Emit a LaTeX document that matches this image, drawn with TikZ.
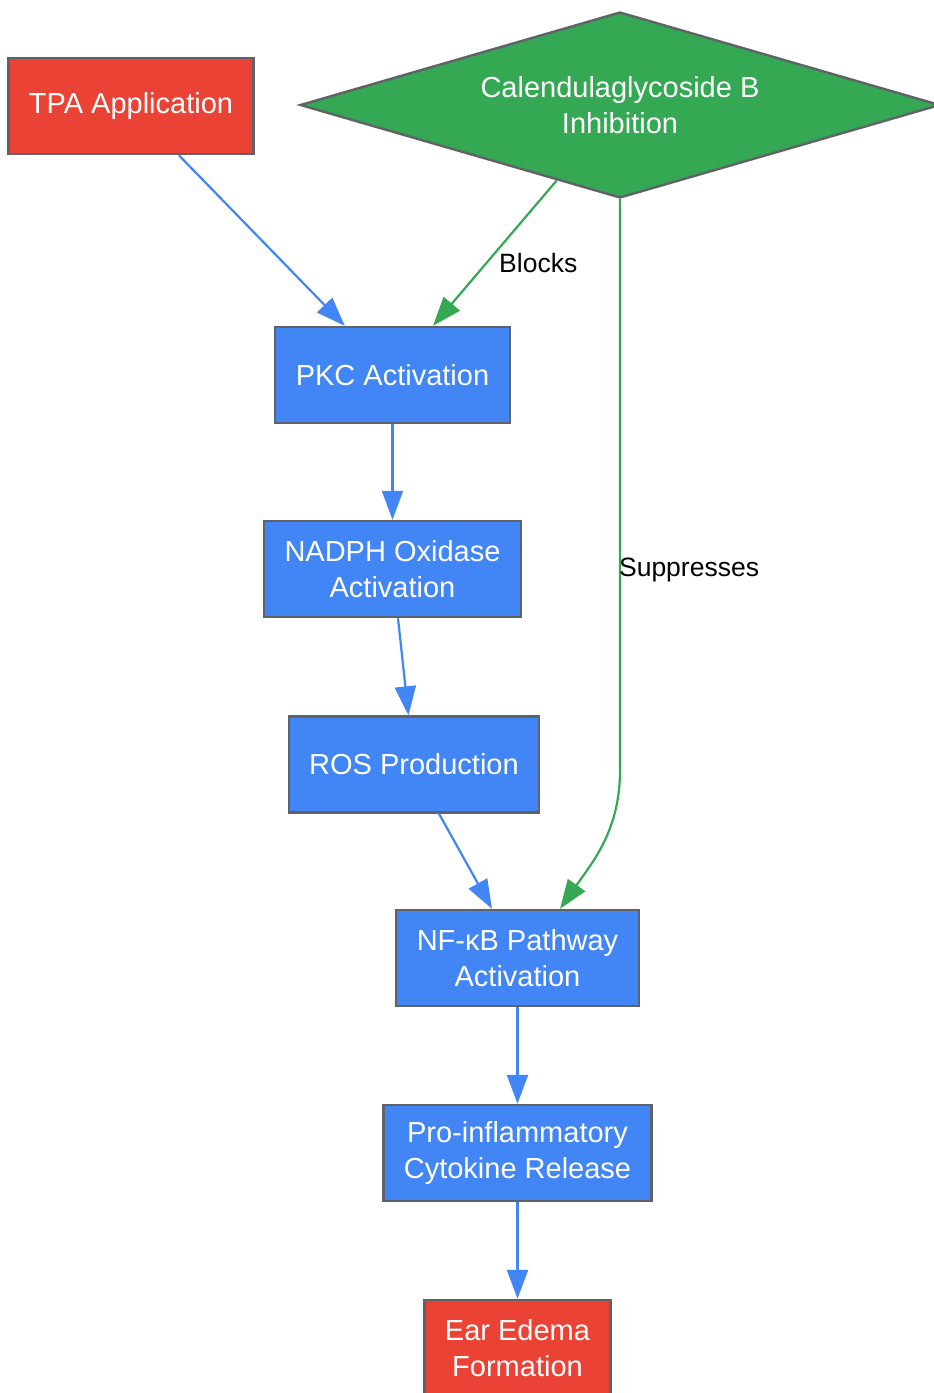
\documentclass[tikz,border=0pt]{standalone}
\usepackage{fontspec}
\setmainfont{Liberation Sans}
\usetikzlibrary{arrows.meta, shapes.geometric, positioning}

\definecolor{gred}{HTML}{EA4335}
\definecolor{ggreen}{HTML}{34A853}
\definecolor{gblue}{HTML}{4285F4}
\definecolor{edgegray}{HTML}{5F6368}

\begin{document}
\begin{tikzpicture}[
						x=1pt, y=-1pt,
						block/.style = {draw=edgegray, line width=2.4pt, rectangle, minimum height=96pt, inner xsep=20.5pt, align=center, text=white, font=\fontsize{29}{36}\selectfont},
						cause/.style = {block, fill=gred},
						pathway/.style = {block, fill=gblue},
						agent/.style = {draw=edgegray, line width=2.4pt, diamond, aspect=3.44, minimum width=640pt, minimum height=186pt, inner sep=0pt, fill=ggreen, text=white, align=center, font=\fontsize{29}{36}\selectfont},
						flow/.style = {draw=gblue, line width=2.2pt, -{Triangle[length=29pt, width=21pt]}},
						inhibit/.style = {draw=ggreen, line width=2.2pt, -{Triangle[length=29pt, width=21pt]}},
						lbl/.style = {font=\fontsize{26.5}{32}\selectfont, text=black, inner sep=0pt}
					]
					\clip (0,0) rectangle (934,1393);
					\useasboundingbox (0,0) rectangle (934,1393);

					\node[cause] (tpa) at (131,106) {TPA Application};
					\node[agent] (cbi) at (620,105) {Calendulaglycoside B\\Inhibition};
					\node[pathway] (pkc) at (392.5,375) {PKC Activation};
					\node[pathway] (nadph) at (392.5,569) {NADPH Oxidase\\Activation};
					\node[pathway] (ros) at (414,764.5) {ROS Production};
					\node[pathway] (nfkb) at (517.5,958) {NF-κB Pathway\\Activation};
					\node[pathway] (cyto) at (517.5,1153) {Pro-inflammatory\\Cytokine Release};
					\node[cause] (edema) at (517.5,1348) {Ear Edema\\Formation};

					\coordinate (bend) at (620,770);

					\draw[flow] (tpa) -- (pkc);
					\draw[inhibit] (cbi.230) -- ([xshift=40.5pt]pkc.north) node[lbl, pos=0.57, anchor=west, xshift=12pt] {Blocks};
					\draw[inhibit] (cbi.south) -- (bend) node[lbl, pos=0.65, anchor=west, xshift=-2pt] {Suppresses} to[out=-90, in=55] ([xshift=42.5pt]nfkb.north);
					\draw[flow] (pkc) -- (nadph);
					\draw[flow] ([xshift=5.5pt]nadph.south) -- ([xshift=-5.5pt]ros.north);
					\draw[flow] ([xshift=25pt]ros.south) -- ([xshift=-25.5pt]nfkb.north);
					\draw[flow] (nfkb) -- (cyto);
					\draw[flow] (cyto) -- (edema);
				\end{tikzpicture}
\end{document}
